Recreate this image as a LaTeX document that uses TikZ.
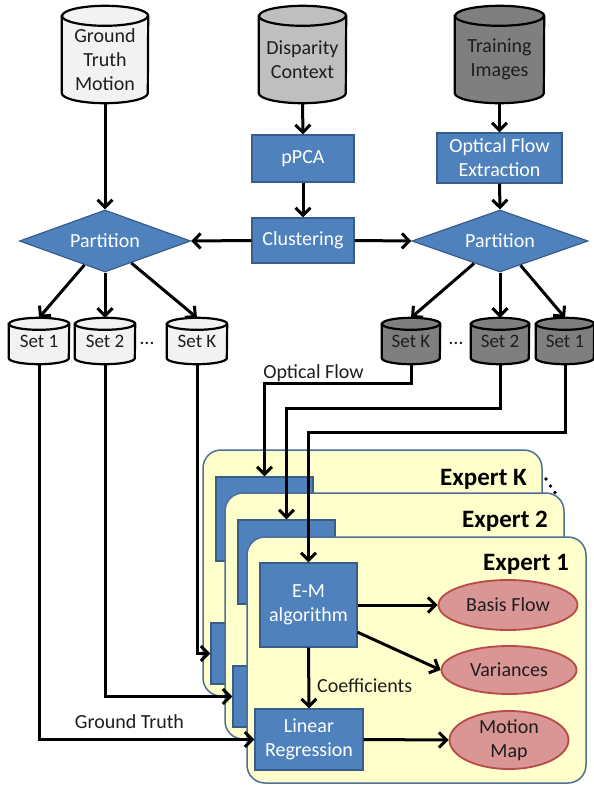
\documentclass[tikz,border=0pt]{standalone}
\usepackage{fontspec}
\setmainfont{Carlito}
\usetikzlibrary{shapes.geometric,arrows.meta,calc,backgrounds}
\definecolor{boxblue}{HTML}{4F81BD}
\definecolor{boxedge}{HTML}{385D8A}
\definecolor{panelfill}{HTML}{FFFFCC}
\definecolor{paneledge}{HTML}{4E6E99}
\definecolor{ellfill}{HTML}{D99694}
\definecolor{elledge}{HTML}{B84A47}
\definecolor{cyllight}{HTML}{F2F2F2}
\definecolor{cylmid}{HTML}{BFBFBF}
\definecolor{cyldark}{HTML}{7F7F7F}
\definecolor{txtdark}{HTML}{1E1E1E}
% #1 node name, #2 x radius, #3 y radius, #4 fill, #5 offset of top ellipse centre below node top
\newcommand\drawcyl[5]{%
  \draw[cylline,fill=#4] ($(#1.north west)+(0,-#5)$) -- ($(#1.south west)+(0,#3)$)
    arc[start angle=180,end angle=360,x radius=#2,y radius=#3]
    -- ($(#1.north east)+(0,-#5)$)
    arc[start angle=0,end angle=180,x radius=#2,y radius=#3] -- cycle;
  \draw[cylline] ($(#1.north west)+(0,-#5)$)
    arc[start angle=180,end angle=360,x radius=#2,y radius=#3];
}
\begin{document}
\begin{tikzpicture}[x=1pt,y=1pt,
  font=\fontsize{20}{24}\selectfont,
  cylline/.style={draw=black,line width=2.2pt},
  arr/.style={draw=black,line width=3pt,-{Straight Barb[length=7.5pt,width=15pt]}},
  bluebox/.style={rectangle,fill=boxblue,draw=boxedge,line width=1.2pt,text=white,align=center,inner sep=0pt},
  decision/.style={diamond,aspect=2.8,fill=boxblue,draw=boxedge,line width=1.2pt,text=white,inner sep=0pt,minimum height=62pt},
  cyltext/.style={rectangle,inner sep=0pt,text=txtdark,align=center},
  settext/.style={cyltext,font=\fontsize{19}{22}\selectfont,minimum height=46pt},
  panel/.style={rectangle,rounded corners=18pt,fill=panelfill,draw=paneledge,line width=1.5pt,minimum width=339pt,minimum height=246pt,inner sep=0pt},
  result/.style={ellipse,fill=ellfill,draw=elledge,line width=1.8pt,text=txtdark,align=center,inner sep=0pt},
  lbl/.style={text=txtdark,inner sep=0pt},
  explbl/.style={font=\fontsize{25}{30}\selectfont\bfseries,text=black,anchor=base east,inner sep=0pt},
  emsize/.style={minimum width=97pt,minimum height=84pt},
  lrsize/.style={minimum width=108pt,minimum height=61pt}]
\useasboundingbox (0,0) rectangle (594,-790);

% sources
\node[cyltext,minimum width=86pt,minimum height=87pt] (gt) at (105,-59.5) {Ground\\Truth\\Motion};
\node[cyltext,minimum width=87pt,minimum height=87pt] (dc) at (302.5,-59.5) {Disparity\\Context};
\node[cyltext,minimum width=89pt,minimum height=87pt] (ti) at (499.5,-59.5) {Training\\Images};

\node[bluebox,minimum width=102pt,minimum height=47pt] (ppca) at (303,-158.5) {pPCA};
\node[bluebox,minimum width=125pt,minimum height=50pt] (ofe) at (499.5,-158) {Optical Flow\\Extraction};
\node[bluebox,minimum width=102pt,minimum height=45pt] (clu) at (303,-240.5) {Clustering};
\node[decision,minimum width=171pt] (pl) at (105,-241) {Partition};
\node[decision,minimum width=176pt] (pr) at (500,-241) {Partition};

% sets
\node[settext,minimum width=60pt] (ls1) at (39,-341) {Set 1};
\node[settext,minimum width=60pt] (ls2) at (105,-341) {Set 2};
\node[settext,minimum width=60pt] (lsK) at (197,-341) {Set K};
\node[settext,minimum width=58pt] (rsK) at (411,-341) {Set K};
\node[settext,minimum width=58pt] (rs2) at (500,-341) {Set 2};
\node[settext,minimum width=58pt] (rs1) at (565,-341) {Set 1};
\node[lbl] (dotsl) at (147,-343) {\dots};
\node[lbl] (dotsr) at (456,-343) {\dots};

\begin{pgfonlayer}{background}
  \fill[white] (0,0) rectangle (594,-790);
  \drawcyl{gt}{43}{10}{cyllight}{0}
  \drawcyl{dc}{43.5}{10}{cylmid}{0}
  \drawcyl{ti}{44.5}{10}{cyldark}{0}
  \drawcyl{ls1}{30}{6}{cyllight}{6}
  \drawcyl{ls2}{30}{6}{cyllight}{6}
  \drawcyl{lsK}{30}{6}{cyllight}{6}
  \drawcyl{rsK}{29}{6}{cyldark}{6}
  \drawcyl{rs2}{29}{6}{cyldark}{6}
  \drawcyl{rs1}{29}{6}{cyldark}{6}
\end{pgfonlayer}

% expert K
\node[panel] (pK) at (372.5,-573) {};
\node[explbl] (lK) at (527,-485) {Expert K};
\node[bluebox,emsize] (emK) at (264.5,-519) {};
\node[bluebox,lrsize] (lrK) at (265,-653.5) {};
\fill[black] (546,-479) circle (1.8pt) (550.5,-486) circle (1.8pt) (555,-492.5) circle (1.8pt);
% expert 2
\node[panel] (p2) at (394.5,-616) {};
\node[explbl] (l2) at (548,-527) {Expert 2};
\node[bluebox,emsize] (em2) at (286.5,-562) {};
\node[bluebox,lrsize] (lr2) at (287,-696.5) {};
% expert 1
\node[panel] (p1) at (416.5,-660) {};
\node[explbl] (l1) at (569,-570) {Expert 1};
\node[bluebox,emsize] (em1) at (308.5,-605) {E-M\\algorithm};
\node[bluebox,lrsize] (lr1) at (309,-739.5) {Linear\\Regression};
\node[result,minimum width=139pt,minimum height=50pt] (bf) at (508,-605) {Basis Flow};
\node[result,minimum width=135pt,minimum height=48pt] (var) at (509,-670) {Variances};
\node[result,minimum width=119pt,minimum height=58pt] (mm) at (509,-740) {Motion\\Map};

% labels
\node[lbl,anchor=base] (oflbl) at (313.5,-378) {Optical Flow};
\node[lbl,anchor=base] (gtlbl) at (129.5,-728) {Ground Truth};
\node[lbl,anchor=base west] (colbl) at (317,-692) {Coefficients};

% connectors
\draw[arr] (gt.south) -- (pl.north);
\draw[arr] (dc.south) -- (ppca.north);
\draw[arr] (ppca.south) -- (clu.north);
\draw[arr] (ti.south) -- (ofe.north);
\draw[arr] (ofe.south) -- (pr.north);
\draw[arr] (clu.west) -- (pl.east);
\draw[arr] (clu.east) -- (pr.west);
\draw[arr] (pl) -- (ls1.north);
\draw[arr] (pl.south) -- (ls2.north);
\draw[arr] (pl) -- (lsK.north);
\draw[arr] (pr) -- (rsK.north);
\draw[arr] (pr.south) -- (rs2.north);
\draw[arr] (pr) -- (rs1.north);

\draw[arr] (ls1.south) |- (lr1.west);
\draw[arr] (ls2.south) |- (lr2.west);
\draw[arr] (lsK.south) |- (lrK.west);
\draw[arr] (rsK.south) -- ++(0,-19) -| (emK.north);
\draw[arr] (rs2.south) -- ++(0,-44) -| (em2.north);
\draw[arr] (rs1.south) -- ++(0,-68) -| (em1.north);

\draw[arr] (em1.east) -- (bf.west);
\draw[arr] (em1.-29) -- (var.west);
\draw[arr] (em1.south) -- (lr1.north);
\draw[arr] (lr1.east) -- (mm.west);
\end{tikzpicture}
\end{document}
